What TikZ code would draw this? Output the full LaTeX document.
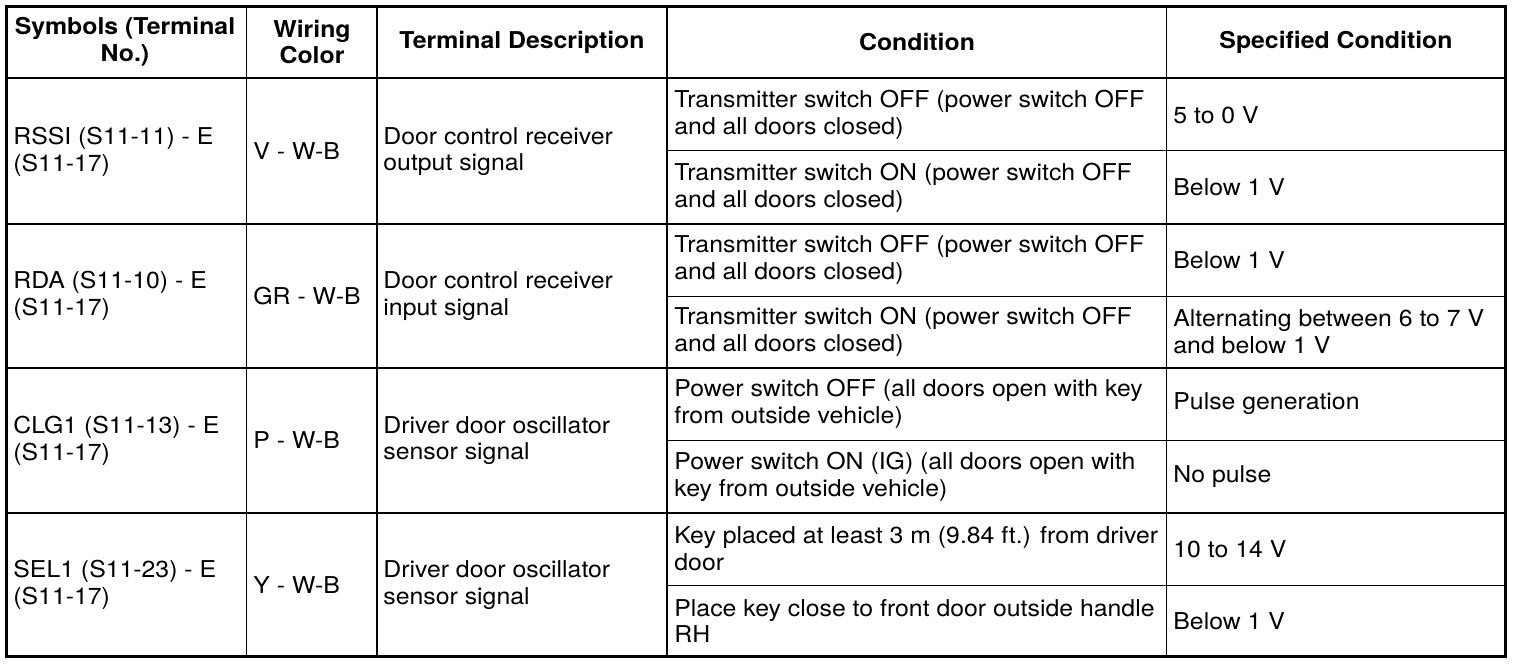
\documentclass[tikz,border=0pt]{standalone}
\usepackage{fontspec}
\setmainfont[FakeStretch=1.07]{TeX Gyre Heros}

\tikzset{
	cell/.style={anchor=west, inner sep=0pt, align=left},
	head/.style={inner sep=0pt, align=center, font=\fontsize{11.6}{13.4}\selectfont\bfseries},
	frame/.style={line width=1.5pt},
	rule/.style={line width=1pt},
	subrule/.style={line width=0.5pt},
}

\begin{document}
\begin{tikzpicture}[x=0.5pt, y=-0.5pt, font=\fontsize{11.6}{13.4}\selectfont]
	\useasboundingbox (0,0) rectangle (1520,664);
	% grid corners
	\coordinate (TL) at (6.5,6.5);
	\coordinate (BR) at (1505.5,656.5);
	% column and row lines
	\foreach \x in {246.5, 377, 667}
		\draw [line width=0.9pt] (\x,6.5) -- (\x,656.5);
	\draw [line width=0.6pt] (1166.5,6.5) -- (1166.5,656.5);
	\draw [rule] (6.5,77.5) -- (1505.5,77.5);
	\foreach \y in {223.5, 368, 513}
		\draw [rule] (6.5,\y) -- (1505.5,\y);
	\foreach \y in {150.5, 296, 440, 585}
		\draw [subrule] (667,\y) -- (1505.5,\y);
	\draw [frame] (TL) rectangle (BR);
	% header
	\path (125,42) node [head] (hsym) {Symbols (Terminal\\No.)};
	\path (312,42) node [head] (hwire) {Wiring\\Color};
	\path (522,42) node [head] (hdesc) {Terminal Description};
	\path (917,42) node [head] (hcond) {Condition};
	\path (1336,42) node [head] (hspec) {Specified Condition};
	% RSSI
	\path (13,151.5) node [cell] (rssi) {RSSI (S11-11) - E\\(S11-17)};
	\path (253,151.5) node [cell] (rssiw) {V - W-B};
	\path (383,151.5) node [cell] (rssid) {Door control receiver\\output signal};
	\path (674,115) node [cell] (rssic1) {Transmitter switch OFF (power switch OFF\\and all doors closed)};
	\path (674,187.5) node [cell] (rssic2) {Transmitter switch ON (power switch OFF\\and all doors closed)};
	\path (1173,115) node [cell] (rssis1) {5 to 0 V};
	\path (1173,187.5) node [cell] (rssis2) {Below 1 V};
	% RDA
	\path (13,296) node [cell] (rda) {RDA (S11-10) - E\\(S11-17)};
	\path (253,296) node [cell] (rdaw) {GR - W-B};
	\path (383,296) node [cell] (rdad) {Door control receiver\\input signal};
	\path (674,260) node [cell] (rdac1) {Transmitter switch OFF (power switch OFF\\and all doors closed)};
	\path (674,332) node [cell] (rdac2) {Transmitter switch ON (power switch OFF\\and all doors closed)};
	\path (1173,260) node [cell] (rdas1) {Below 1 V};
	\path (1173,332) node [cell] (rdas2) {Alternating between 6 to 7 V\\and below 1 V};
	% CLG1
	\path (13,440.5) node [cell] (clg) {CLG1 (S11-13) - E\\(S11-17)};
	\path (253,440.5) node [cell] (clgw) {P - W-B};
	\path (383,440.5) node [cell] (clgd) {Driver door oscillator\\sensor signal};
	\path (674,404) node [cell] (clgc1) {Power switch OFF (all doors open with key\\from outside vehicle)};
	\path (674,476.5) node [cell] (clgc2) {Power switch ON (IG) (all doors open with\\key from outside vehicle)};
	\path (1173,404) node [cell] (clgs1) {Pulse generation};
	\path (1173,476.5) node [cell] (clgs2) {No pulse};
	% SEL1
	\path (13,585) node [cell] (sel) {SEL1 (S11-23) - E\\(S11-17)};
	\path (253,585) node [cell] (selw) {Y - W-B};
	\path (383,585) node [cell] (seld) {Driver door oscillator\\sensor signal};
	\path (674,549) node [cell] (selc1) {Key placed at least 3 m (9.84 ft.) from driver\\door};
	\path (674,621) node [cell] (selc2) {Place key close to front door outside handle\\RH};
	\path (1173,549) node [cell] (sels1) {10 to 14 V};
	\path (1173,621) node [cell] (sels2) {Below 1 V};
\end{tikzpicture}
\end{document}
